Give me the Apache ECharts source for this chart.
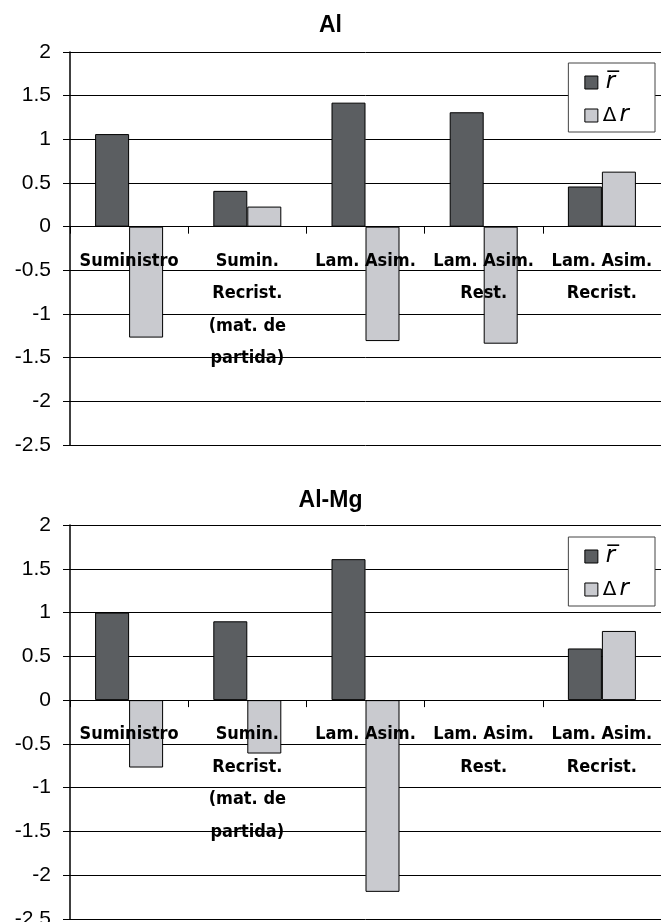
<!DOCTYPE html>
<html><head><meta charset="utf-8">
<script src="https://cdn.jsdelivr.net/npm/echarts@6/dist/echarts.min.js"></script>
<style>html,body{margin:0;padding:0;background:#fff}#c{width:661px;height:922px}</style>
</head><body><div id="c"></div>
<script>
const categories = ['Suministro', 'Sumin.\nRecrist.\n(mat. de\npartida)', 'Lam. Asim.', 'Lam. Asim.\nRest.', 'Lam. Asim.\nRecrist.'];
const titles = ['Al', 'Al-Mg'];
const seriesNames = ['rbar', 'dr'];
const alRbar = [1.06, 0.41, 1.42, 1.31, 0.46];
const alDr = [-1.27, 0.23, -1.31, -1.34, 0.63];
const mgRbar = [1.00, 0.90, 1.61, null, 0.59];
const mgDr = [-0.77, -0.61, -2.19, null, 0.79];
const yMin = -2.5, yMax = 2, yStep = 0.5;

const darkColor = '#5b5e61', lightColor = '#c9cacf';
const labelFont = '"DejaVu Sans Condensed", "Liberation Sans", sans-serif';
const numFont = '"Liberation Sans", Arial, sans-serif';

const grids = [
  {left: 70, right: 0, top: 52, height: 393, outerBoundsMode: 'none', containLabel: false},
  {left: 70, right: 0, top: 525, height: 394, outerBoundsMode: 'none', containLabel: false}
];
const chart = echarts.init(document.getElementById('c'));
const xAxes = [], yAxes = [], series = [], legends = [], titleOpts = [];
const data = [[alRbar, alDr], [mgRbar, mgDr]];
const titleTops = [9, 484];
const legendPos = [{right: 6, top: 63}, {right: 6, top: 537}];
for (let i = 0; i < 2; i++) {
  const zeroOffset = -grids[i].height * (0 - yMin) / (yMax - yMin);
  titleOpts.push({text: titles[i], left: 'center', top: titleTops[i],
    textStyle: {fontFamily: numFont, fontWeight: 'bold', fontSize: 23, color: '#000'}});
  xAxes.push({type: 'category', gridIndex: i, data: categories, position: 'bottom',
    offset: zeroOffset, z: 5,
    axisLine: {onZero: false, lineStyle: {color: '#000', width: 1}},
    axisTick: {show: true, length: 7, inside: false, lineStyle: {color: '#000'}},
    axisLabel: {interval: 0, margin: 18, fontFamily: labelFont, fontWeight: 'bold', fontSize: 18,
      lineHeight: 32.5, color: '#000', verticalAlign: 'top'}});
  yAxes.push({type: 'value', gridIndex: i, min: yMin, max: yMax, interval: yStep,
    axisLine: {show: true, lineStyle: {color: '#000', width: 1.5}},
    axisTick: {show: true, length: 7, lineStyle: {color: '#000'}},
    axisLabel: {margin: 19, fontFamily: numFont, fontSize: 21, color: '#000',
      formatter: v => String(v)},
    splitLine: {show: true, lineStyle: {color: '#000', width: 1}}});
  series.push({name: seriesNames[0], type: 'bar', xAxisIndex: i, yAxisIndex: i, data: data[i][0],
    barWidth: 34, barGap: '0%',
    itemStyle: {color: darkColor, borderColor: '#000', borderWidth: 1}});
  series.push({name: seriesNames[1], type: 'bar', xAxisIndex: i, yAxisIndex: i, data: data[i][1],
    barWidth: 34, barGap: '0%',
    itemStyle: {color: lightColor, borderColor: '#000', borderWidth: 1}});
  legends.push(Object.assign({orient: 'vertical', data: seriesNames,
    backgroundColor: '#fff', borderColor: '#444', borderWidth: 1,
    padding: [8, 26, 5, 16], itemGap: 10, itemWidth: 13, itemHeight: 13,
    icon: 'rect', selectedMode: false,
    itemStyle: {borderColor: '#000', borderWidth: 1},
    formatter: n => n === 'rbar' ? '{i|r\u0305}' : '{n|\u0394}{i|r}',
    textStyle: {fontSize: 20, color: '#000', lineHeight: 22, rich: {
      i: {fontStyle: 'italic', fontSize: 23, lineHeight: 22, fontFamily: 'DejaVu Sans', color: '#000', padding: [0, 0, 0, 3]},
      n: {fontSize: 20, lineHeight: 22, fontFamily: 'DejaVu Sans', color: '#000'}}}}, legendPos[i]));
}
chart.setOption({animation: false, title: titleOpts, grid: grids, xAxis: xAxes, yAxis: yAxes,
  legend: legends, series: series});
</script></body></html>
